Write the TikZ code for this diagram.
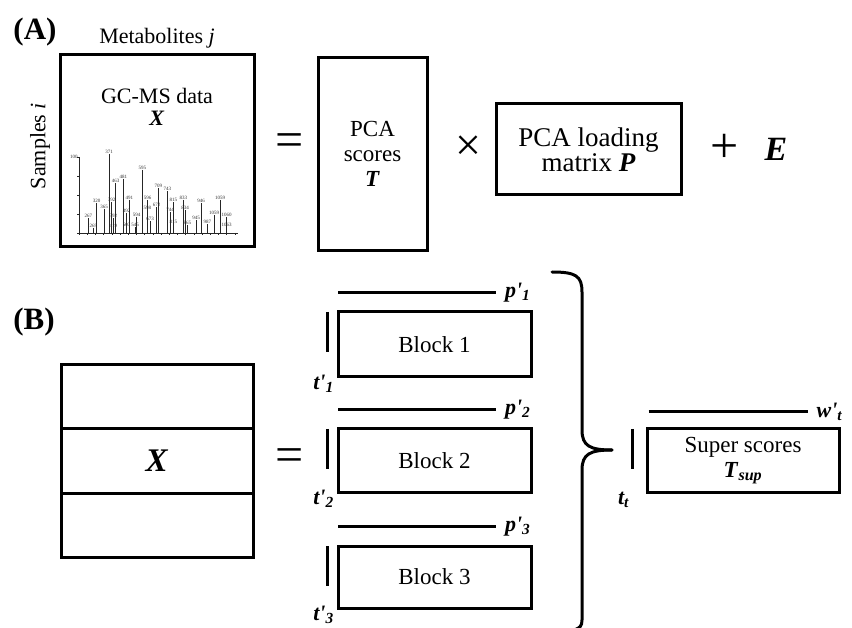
\documentclass[tikz,border=0pt]{standalone}
\usepackage{fontspec}
\setmainfont{Liberation Serif}
\usetikzlibrary{positioning,calc}

\tikzset{
  mat/.style={draw, line width=3pt, inner sep=0pt, align=center,
    font=\fontsize{23}{25}\selectfont},
  vec/.style={line width=2.2pt},
  vlbl/.style={font=\fontsize{22}{22}\selectfont\bfseries\itshape, inner sep=2pt},
  txt/.style={font=\fontsize{22}{22}\selectfont, align=center, inner sep=0pt},
  sym/.style={font=\fontsize{50}{50}\selectfont, inner sep=0pt},
  panel/.style={font=\fontsize{31}{31}\selectfont\bfseries, inner sep=0pt},
  spec/.style={line width=0.5pt, black!85},
  peak/.style={font=\fontsize{5}{5}\selectfont, inner sep=0.3pt, black!80},
  brace/.style={line width=3pt, line cap=round}
}
\newcommand{\bi}[1]{\textbf{\textit{#1}}}
\newcommand{\pr}{\textquotesingle}

\begin{document}
\begin{tikzpicture}[x=1pt, y=-1pt]
\useasboundingbox (0,0) rectangle (852,628);

% (A) PCA
\node[panel] (pa) at (35,32) {(A)};
\node[mat, minimum width=194pt, minimum height=192pt] (gcms) at (157,151) {};
\node[txt] (metab) at (157,38) {Metabolites \textit{j}};
\node[txt, rotate=90] (samp) at (40,146) {Samples \textit{i}};
\node[txt] (gclbl) at (157,107) {GC-MS data\\\bi{X}};

% Massenspektrum
\coordinate (base) at (79,233);
\draw[spec] (79,157) -- (base) -- (238,233);
\foreach \t in {0,...,19}
    \draw[spec] (79+\t*8.2,233) -- ++(0,2.5);
\foreach \t in {0,...,4}
    \draw[spec] (79,157+\t*19) -- ++(-2,0);
\node[peak, left] (hundred) at (78,157) {100};
\foreach \px/\py/\mz [count=\k] in {
    88.3/216/267, 93.3/225.7/269, 96.7/201/320, 104/206.7/365,
    109/151.7/371, 111.7/200/392, 113.3/216/392, 113.3/225.7/419,
    115.7/181/463, 123.3/176.7/481, 129.3/197.7/491, 126.7/210.7/492,
    126.7/225/503, 135/225/545, 136.7/215/594, 142.3/167.7/595,
    147.7/198.3/596, 147.3/208.3/598, 156.7/205/672, 150/219/673,
    158.3/186/709, 167.3/189/743, 170/210/744, 173.3/200/815,
    183.3/197.7/833, 185/207.7/834, 173.3/221.7/815, 187.3/223.3/865,
    196/217.7/945, 201/201/946, 207.3/222.3/987, 220/198.3/1059,
    214/213.3/1059, 226.7/215/1060, 226.7/225/1063} {
    \node[peak] (pk\k) at (\px,\py) {\mz};
    \draw[spec] (pk\k.south) -- (pk\k.south |- base);
}

\node[sym] (eqa) at (290,145) {=};
\node[mat, minimum width=109pt, minimum height=193pt] (scores) at (372.5,154)
    {PCA\\scores\\\bi{T}};
\node[sym, font=\fontsize{46}{46}\selectfont] (times) at (468,148) {×};
\node[mat, minimum width=185pt, minimum height=91pt,
    font=\fontsize{27}{25}\selectfont] (loading) at (588.5,149.5)
    {PCA loading\\matrix \bi{P}};
\node[sym] (plus) at (725,148) {+};
\node[sym, font=\fontsize{34}{34}\selectfont\bfseries\itshape] (err) at (776,149) {E};

% (B) Multiblock
\node[panel] (pb) at (34,322) {(B)};
\node[mat, minimum width=192pt, minimum height=64pt] (xtop) at (157,397) {};
\node[mat, minimum width=192pt, minimum height=64pt,
    font=\fontsize{33}{33}\selectfont] (xmid) at (157,461) {\bi{X}};
\node[mat, minimum width=192pt, minimum height=64pt] (xbot) at (157,525) {};
\node[sym] (eqb) at (290,460) {=};

\foreach \b/\yc/\h in {1/344.5/65, 2/460.5/63, 3/577/62} {
    \node[mat, minimum width=193pt, minimum height=\h pt] (block\b) at (434.5,\yc)
        {Block \b};
    \draw[vec] ($(block\b.north west)+(1.5,-18)$) -- ++(158,0)
        node[vlbl, right, xshift=6pt] (p\b) {\bi{p\pr}\textsubscript{\bi{\b}}};
    \draw[vec] ($(block\b.north west)+(-9,1.5)$) -- ++(0,40);
    \node[vlbl] (t\b) at ($(block\b.south west)+(-13,5)$)
        {\bi{t\pr}\textsubscript{\bi{\b}}};
}

% geschweifte Klammer
\draw[brace] (552,272) .. controls (576,272) and (582,276) .. (582,292)
    -- (582,430) .. controls (582,446) and (590,450) .. (612,450);
\draw[brace] (612,450) .. controls (590,450) and (582,454) .. (582,470)
    -- (582,620) .. controls (582,626) and (580,628) .. (574,630);

% Super scores
\node[mat, minimum width=192pt, minimum height=63pt] (super) at (743,460.5)
    {Super scores\\\bi{T}\textsubscript{\bi{sup}}};
\draw[vec] ($(super.north west)+(3,-16)$) -- ++(159,0)
    node[vlbl, right, xshift=6pt] (wt) {\bi{w\pr}\textsubscript{\bi{t}}};
\draw[vec] ($(super.north west)+(-13,1.5)$) -- ++(0,40);
\node[vlbl] (tt) at ($(super.south west)+(-22,6)$) {\bi{t}\textsubscript{\bi{t}}};

\end{tikzpicture}
\end{document}
